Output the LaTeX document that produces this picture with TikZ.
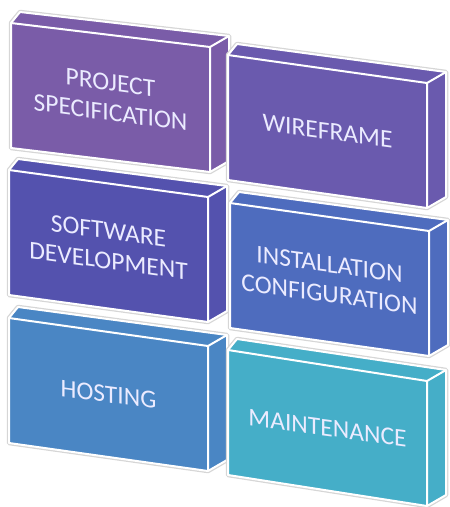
\documentclass[tikz,border=0pt]{standalone}
\usepackage{fontspec}
\setmainfont{Carlito}

\definecolor{specclr}{HTML}{7A5CA8}
\definecolor{wireclr}{HTML}{6A5AAE}
\definecolor{softclr}{HTML}{5452AE}
\definecolor{instclr}{HTML}{4E6CBE}
\definecolor{hostclr}{HTML}{4A86C4}
\definecolor{maintclr}{HTML}{45AEC8}

\tikzset{face/.style={draw=white,line width=2pt,line join=round}}
\tikzset{halo/.style={draw=black!16,line width=4.5pt,line join=round}}
\tikzset{blocktext/.style={text=white!92!blue,font=\fontsize{25.5}{30}\selectfont,align=center,yslant=-0.135,inner sep=0pt}}

% one block: name, x, y of front top left, drop of top edge, colour, text
\newcommand{\drawblock}[6]{%
  \path (#2,#3) coordinate (#1-a) ++(199,#4) coordinate (#1-b)
        ++(0,125) coordinate (#1-c) ++(-199,-#4) coordinate (#1-d);
  \path (#1-a) ++(9,-11) coordinate (#1-e);
  \path (#1-b) ++(19,-11) coordinate (#1-f);
  \path (#1-c) ++(19,-11) coordinate (#1-g);
  \draw[halo] (#1-a) -- (#1-e) -- (#1-f) -- (#1-g) -- (#1-c) -- (#1-d) -- cycle;
  \fill[#5] (#1-a) -- (#1-e) -- (#1-f) -- (#1-g) -- (#1-c) -- (#1-d) -- cycle;
  \draw[face] (#1-a) -- (#1-e) -- (#1-f) -- (#1-g) -- (#1-c) -- (#1-d) -- cycle;
  \draw[face] (#1-a) -- (#1-b) -- (#1-c) (#1-b) -- (#1-f);
  \path (#1-a) ++(99.5,{#4/2+62.5}) node[blocktext] (#1) {#6};
}

\begin{document}
\begin{tikzpicture}[x=1pt,y=-1pt]
    \useasboundingbox (0,0) rectangle (450,507);
    % left column
    \drawblock{spec}{11}{23}{24}{specclr}{PROJECT\\SPECIFICATION}
    \drawblock{soft}{9}{170}{27}{softclr}{SOFTWARE\\DEVELOPMENT}
    \drawblock{host}{9}{318}{28}{hostclr}{HOSTING}
    % right column
    \drawblock{wire}{228}{55}{28}{wireclr}{WIREFRAME}
    \drawblock{inst}{230}{203}{28}{instclr}{INSTALLATION\\CONFIGURATION}
    \drawblock{maint}{228}{350}{31}{maintclr}{MAINTENANCE}
\end{tikzpicture}
\end{document}
